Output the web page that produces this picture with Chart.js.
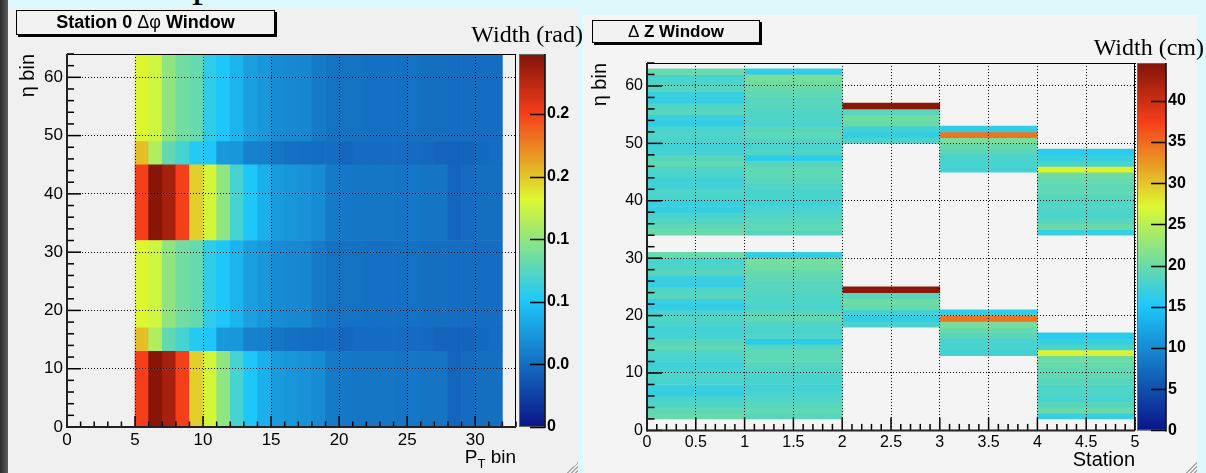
<!DOCTYPE html>
<html>
<head>
<meta charset="utf-8">
<script src="https://cdn.jsdelivr.net/npm/chart.js@4.4.1/dist/chart.umd.min.js"></script>
<style>
html, body { margin: 0; padding: 0; }
body { width: 1206px; height: 473px; position: relative; overflow: hidden; background: #dcf8fb;
       font-family: "Liberation Sans", Arial, sans-serif; color: #000; }
#edge { position: absolute; left: 0; top: 0; width: 8px; height: 473px;
        background: linear-gradient(to right, #2c2c2c 0, #3c3c3c 3px, #5c5c5c 8px); }
#clipP { position: absolute; left: 186px; top: 0; width: 30px; height: 8px; overflow: hidden; }
#clipP span { position: absolute; left: 6px; top: -40px; font: 44px/44px "Liberation Serif", serif; }
.pad { position: absolute; }
.pad canvas { position: absolute; left: 0; top: 0; display: block; }
#padL { left: 8px; top: 7px; width: 570px; height: 466px; background: #f0f0f0; }
#padR { left: 583px; top: 15px; width: 614px; height: 458px; background: #f4f4f4; }
.tbox { position: absolute; box-sizing: border-box; border: 1px solid #000; box-shadow: 2px 2px 0 #000;
        background: #f2f2f2; font-weight: bold; font-size: 18px; text-align: center; white-space: nowrap; }
.tbox .sym { font-weight: normal; }
#boxL { left: 16px; top: 10px; width: 259px; height: 25px; line-height: 23px; }
#boxR { left: 592px; top: 20px; width: 168px; height: 23px; line-height: 21px; font-size: 17px; }
.ztitle { position: absolute; font: 24px/24px "Liberation Serif", "Times New Roman", serif; white-space: nowrap; }
#zL { right: 623px; top: 22px; }
#zR { right: 2px; top: 35px; }
#ptTitle { position: absolute; right: 690px; top: 447px; font-size: 19px; line-height: 19px; white-space: nowrap; }
#ptTitle .sub { font-size: 13px; position: relative; top: 5px; }
.grip { position: absolute; width: 11px; height: 11px;
        background: linear-gradient(135deg, transparent 0 50%, #aaa 50% 57%, transparent 57% 67%, #aaa 67% 74%, transparent 74% 84%, #aaa 84% 91%, transparent 91%); }
</style>
</head>
<body>
<div id="edge"></div>
<div id="clipP"><span>p</span></div>
<div class="pad" id="padL"><canvas id="phiChart" width="570" height="466"></canvas></div>
<div class="pad" id="padR"><canvas id="dzChart" width="614" height="458"></canvas></div>
<div class="tbox" id="boxL">Station 0 <span class="sym">Δφ</span> Window</div>
<div class="tbox" id="boxR"><span class="sym">Δ</span> Z Window</div>
<div class="ztitle" id="zL">Width (rad)</div>
<div class="ztitle" id="zR">Width (cm)</div>
<div id="ptTitle">P<span class="sub">T</span> bin</div>
<div class="grip" style="left:567px;top:462px"></div>
<div class="grip" style="left:1186px;top:462px"></div>

<script>
// =============================================
// Station 0 dphi window (left) and dZ window (right)
// =============================================

// ---- left: dphi width per (pT bin, eta band) ----
const ptBinLow = [5, 6, 7, 8, 9, 10, 11, 12, 13, 14, 15, 16, 17, 18, 19, 20, 21, 22, 23, 24, 25, 26, 27, 28, 29, 30, 31];
const ptTickLabels = ['0', '5', '10', '15', '20', '25', '30'];
const etaTickLabels = ['0', '10', '20', '30', '40', '50', '60'];

// eta band edges; the pattern repeats in the upper half (eta 32-63)
const phiBandEdges = [0, 13, 17, 32, 45, 49, 64];
const phiHigh = [0.250, 0.296, 0.283, 0.250, 0.197, 0.178, 0.150, 0.118, 0.101, 0.088, 0.076, 0.073, 0.071,
                 0.067, 0.058, 0.056, 0.055, 0.055, 0.055, 0.054, 0.056, 0.054, 0.054, 0.046, 0.049, 0.051, 0.051];
const phiLow  = [0.203, 0.163, 0.130, 0.118, 0.104, 0.100, 0.075, 0.074, 0.062, 0.061, 0.055, 0.052, 0.051,
                 0.050, 0.050, 0.046, 0.049, 0.049, 0.049, 0.049, 0.049, 0.048, 0.045, 0.045, 0.045, 0.048, 0.050];
const phiMid  = [0.182, 0.176, 0.150, 0.137, 0.131, 0.108, 0.101, 0.090, 0.079, 0.074, 0.067, 0.066, 0.065,
                 0.058, 0.053, 0.053, 0.053, 0.052, 0.052, 0.052, 0.053, 0.051, 0.051, 0.050, 0.050, 0.050, 0.050];
const phiBandValues = [phiHigh, phiLow, phiMid, phiHigh, phiLow, phiMid];
const phiMax = 0.298;
const phiBarLabels = ['0', '0.0', '0.1', '0.1', '0.2', '0.2'];

// ---- right: dZ width per (station, eta bin) ----
const stationTickLabels = ['0', '0.5', '1', '1.5', '2', '2.5', '3', '3.5', '4', '4.5', '5'];
const dzFirstEta = [2, 2, 18, 13, 2];
const dzStation0 = [19.8, 19.3, 18.3, 17.8, 16.6, 16.8, 17.8, 18.1, 17.5, 17.3, 17.8, 18.3, 19.3, 18.8, 17.5,
                    17.3, 17.8, 18.3, 17.8, 16.4, 16.8, 18.8, 18.3, 16.6, 16.8, 18.8, 18.1, 17.8, 19.8];
const dzStation1 = [18.8, 19.3, 18.8, 18.3, 17.8, 17.3, 17.8, 17.8, 18.3, 18.8, 19.3, 19.3, 18.8, 16.0, 18.3,
                    17.8, 18.3, 19.3, 18.8, 17.8, 18.3, 18.3, 18.8, 18.8, 19.3, 19.8, 20.3, 20.8, 16.5];
const dzStation2 = [17.8, 16.5, 17.3, 19.8, 20.3, 18.8, 44];
const dzStation3 = [17.5, 17.8, 17.8, 18.8, 19.8, 20.8, 34.5, 16.3];
const dzStation4 = [16.8, 19.8, 18.8, 17.8, 18.3, 18.3, 18.8, 19.3, 19.3, 19.8, 20.3, 27.5, 17.8, 16.8, 16.0];
const dzValues = [dzStation0, dzStation1, dzStation2, dzStation3, dzStation4];
const dzHalfOffsets = [0, 32];
const dzMax = 44.6;
const dzBarLabels = ['0', '5', '10', '15', '20', '25', '30', '35', '40'];

// colour palette (blue - cyan - yellow - red - dark red)
const paletteStops = [0, 0.34, 0.61, 0.84, 1];
const paletteRGB = [[10, 20, 135], [30, 200, 250], [220, 248, 48], [245, 62, 26], [128, 20, 8]];

function rgb(c) { return `rgb(${Math.round(c[0])},${Math.round(c[1])},${Math.round(c[2])})`; }

function paletteColor(t) {
    t = Math.min(1, Math.max(0, t));
    let i = 1;
    while (i < paletteStops.length - 1 && t > paletteStops[i]) i++;
    const f = (t - paletteStops[i - 1]) / (paletteStops[i] - paletteStops[i - 1]);
    const a = paletteRGB[i - 1], b = paletteRGB[i];
    return rgb([0, 1, 2].map(k => a[k] + (b[k] - a[k]) * f));
}

// ROOT-like frame, inward ticks and colour bar
const rootFrame = {
    id: 'rootFrame',
    afterDraw(chart, args, o) {
        const { ctx, chartArea: a } = chart;
        const x = chart.scales.x, y = chart.scales.y, z = chart.scales.z;
        const line = (x1, y1, x2, y2) => { ctx.beginPath(); ctx.moveTo(x1, y1); ctx.lineTo(x2, y2); ctx.stroke(); };
        ctx.save();

        // colour bar
        const top = z.getPixelForValue(z.max), bot = z.getPixelForValue(z.min);
        const bx = a.right + o.barGap;
        const grad = ctx.createLinearGradient(0, bot, 0, top);
        paletteStops.forEach((s, i) => grad.addColorStop(s, rgb(paletteRGB[i])));
        ctx.fillStyle = grad;
        ctx.fillRect(bx, top, o.barWidth, bot - top);
        ctx.strokeStyle = '#666'; ctx.lineWidth = 1;
        ctx.strokeRect(bx + 0.5, top + 0.5, o.barWidth - 1, bot - top - 1);
        ctx.strokeStyle = '#000'; ctx.lineWidth = 1.5;
        line(bx + o.barWidth, top, bx + o.barWidth, bot + 1);
        z.ticks.forEach(t => {
            const p = Math.round(z.getPixelForValue(t.value)) + 0.5;
            line(bx + o.barWidth - o.barTick, p, bx + o.barWidth, p);
        });

        // frame
        ctx.strokeStyle = '#000'; ctx.lineWidth = 1;
        line(a.left, a.top + 0.5, a.right, a.top + 0.5);
        line(a.right - 0.5, a.top, a.right - 0.5, a.bottom);

        // ticks
        ctx.lineWidth = 1.5;
        const nX = Math.round((x.max - x.min) / o.xMinor);
        for (let i = 0; i <= nX; i++) {
            const v = x.min + i * o.xMinor;
            const r = v / o.xMajor;
            const len = Math.abs(r - Math.round(r)) < 1e-6 ? o.xTickLen[0] : o.xTickLen[1];
            const px = x.getPixelForValue(v);
            line(px, a.bottom, px, a.bottom - len);
        }
        const nY = Math.round((y.max - y.min) / o.yMinor);
        for (let i = 0; i <= nY; i++) {
            const v = y.min + i * o.yMinor;
            const r = v / o.yMajor;
            const len = Math.abs(r - Math.round(r)) < 1e-6 ? o.yTickLen[0] : o.yTickLen[1];
            const py = y.getPixelForValue(v);
            line(a.left, py, a.left + len, py);
        }

        // axis lines
        ctx.lineWidth = 2; ctx.strokeStyle = '#222';
        line(a.left, a.bottom, a.right, a.bottom);
        line(a.left, a.top, a.left, a.bottom + 1);
        ctx.restore();
    }
};

Chart.defaults.font.family = '"Liberation Sans", Arial, sans-serif';

function gridAxis(min, max, step, labels, size, pad, fit, horizontal) {
    return {
        type: 'linear', min: min, max: max, offset: false,
        afterFit: s => { if (horizontal) s.height = fit; else s.width = fit; },
        grid: { color: '#000', lineWidth: 1, drawTicks: false, offset: false, z: 1 },
        border: { display: false, dash: [1, 2] },
        ticks: { stepSize: step, includeBounds: false, autoSkip: false, maxRotation: 0, padding: pad,
                 color: '#000', font: { size: size }, callback: (v, i) => labels[i] }
    };
}

function barAxis(max, step, labels, pad, fit) {
    return {
        type: 'linear', position: 'right', min: 0, max: max,
        afterFit: s => { s.width = fit; },
        grid: { drawOnChartArea: false, drawTicks: false },
        border: { display: false },
        ticks: { stepSize: step, includeBounds: false, autoSkip: false, padding: pad,
                 color: '#000', font: { size: 16, weight: 'bold' }, callback: (v, i) => labels[i] }
    };
}

const barDefaults = { grouped: false, barPercentage: 1, categoryPercentage: 1, borderWidth: 0 };

// ---- left chart ----
const phiDatasets = phiBandValues.map((vals, b) => ({
    data: ptBinLow.map((p, i) => ({ x: p + 0.5, y: [phiBandEdges[b], phiBandEdges[b + 1]], v: vals[i] })),
    backgroundColor: c => paletteColor(c.raw.v / phiMax)
}));

const phiY = gridAxis(0, 64, 10, etaTickLabels, 17, 4, 59, false);
phiY.title = { display: true, text: 'η bin', align: 'end', color: '#000',
               font: { size: 20, lineHeight: 1 }, padding: { top: 10, bottom: 0 } };

new Chart(document.getElementById('phiChart'), {
    type: 'bar',
    data: { datasets: phiDatasets },
    options: {
        responsive: false, animation: false, events: [],
        layout: { padding: { top: 47, left: 0, right: 0, bottom: 0 } },
        datasets: { bar: barDefaults },
        plugins: {
            legend: { display: false }, tooltip: { enabled: false },
            rootFrame: { barGap: 3, barWidth: 26, barTick: 15, xMinor: 1, xMajor: 5, yMinor: 2, yMajor: 10,
                         xTickLen: [11, 5.5], yTickLen: [14, 7] }
        },
        scales: {
            x: gridAxis(0, 33, 5, ptTickLabels, 17, 3, 46, true),
            y: phiY,
            z: barAxis(phiMax, 0.05, phiBarLabels, 31, 62)
        }
    },
    plugins: [rootFrame]
});

// ---- right chart ----
const dzDatasets = [];
dzValues.forEach((vals, s) => {
    dzHalfOffsets.forEach(off => {
        dzDatasets.push({
            xAxisID: 'xb', yAxisID: 'y',
            data: vals.map((v, k) => ({ x: s + 0.5, y: [dzFirstEta[s] + k + off, dzFirstEta[s] + k + off + 1], v: v })),
            backgroundColor: c => paletteColor(c.raw.v / dzMax)
        });
    });
});

const dzX = gridAxis(0, 5, 0.5, stationTickLabels, 16, 3, 42, true);
dzX.title = { display: true, text: 'Station', align: 'end', color: '#000',
              font: { size: 20, lineHeight: 1 }, padding: { top: 0, bottom: 2 } };
const dzY = gridAxis(0, 64, 10, etaTickLabels, 16, 4, 64, false);
dzY.title = { display: true, text: 'η bin', align: 'end', color: '#000',
              font: { size: 20, lineHeight: 1 }, padding: { top: 7, bottom: 0 } };

new Chart(document.getElementById('dzChart'), {
    type: 'bar',
    data: { datasets: dzDatasets },
    options: {
        responsive: false, animation: false, events: [],
        layout: { padding: { top: 48, left: 0, right: 0, bottom: 0 } },
        datasets: { bar: barDefaults },
        plugins: {
            legend: { display: false }, tooltip: { enabled: false },
            rootFrame: { barGap: 2, barWidth: 29, barTick: 15, xMinor: 0.1, xMajor: 0.5, yMinor: 2, yMajor: 10,
                         xTickLen: [13, 6.5], yTickLen: [15, 7.5] }
        },
        scales: {
            x: dzX,
            xb: { type: 'linear', display: false, offset: false, grid: { offset: false },
                  min: 0, max: 5, ticks: { stepSize: 1 } },
            y: dzY,
            z: barAxis(dzMax, 5, dzBarLabels, 33, 62)
        }
    },
    plugins: [rootFrame]
});
</script>
</body>
</html>
